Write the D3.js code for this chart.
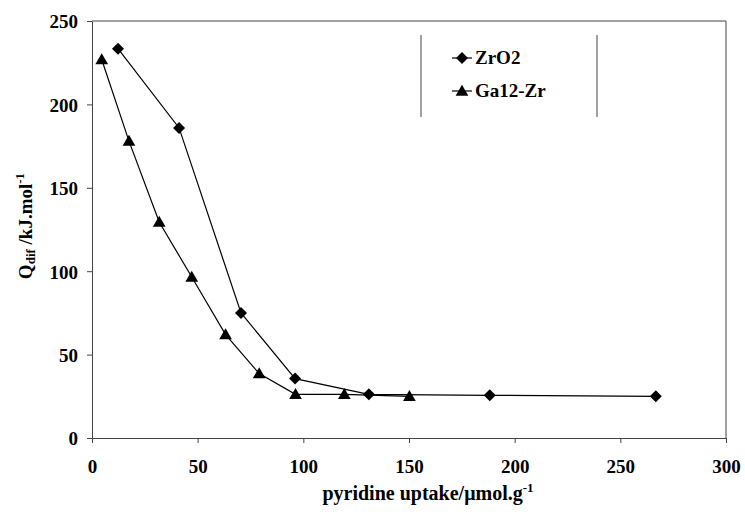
<!DOCTYPE html>
<html>
<head>
<meta charset="utf-8">
<style>
  body { margin: 0; background: #fff; }
  text { font-family: "Liberation Serif", "Times New Roman", serif; font-weight: bold; fill: #000; }
</style>
</head>
<body>
<div id="chart"></div>
<script src="https://cdn.jsdelivr.net/npm/d3@7"></script>
<script>
// values
var zrX = [12.3, 41.2, 70.5, 96.1, 131, 188.2, 266.8];
var zrY = [233.4, 185.9, 75, 35.6, 26.2, 25.6, 25];
var gaX = [4.6, 17.5, 31.8, 47.2, 63.2, 79.1, 96.3, 119.4, 150.2];
var gaY = [226.9, 178, 129.5, 96.5, 62, 38.6, 26.2, 26.2, 25];
var xTicks = [0, 50, 100, 150, 200, 250, 300];
var yTicks = [0, 50, 100, 150, 200, 250];
var seriesNames = ["ZrO2", "Ga12-Zr"];

var W = 745, H = 512;
var m = {left: 92, right: 19, top: 21, bottom: 74};

var svg = d3.select('#chart').append('svg').attr('width', W).attr('height', H);

var x = d3.scaleLinear().domain([0, 300]).range([m.left, W - m.right]);
var y = d3.scaleLinear().domain([0, 250]).range([H - m.bottom, m.top]);

// frame (top and right)
svg.append('path')
  .attr('d', 'M' + x(0) + ',' + y(250) + 'H' + x(300) + 'V' + y(0))
  .attr('fill', 'none').attr('stroke', '#444').attr('stroke-width', 1);

var xAxis = svg.append('g')
  .attr('transform', 'translate(0,' + y(0) + ')')
  .call(d3.axisBottom(x).tickValues(xTicks).tickSize(5).tickPadding(17).tickSizeOuter(0));
var yAxis = svg.append('g')
  .attr('transform', 'translate(' + x(0) + ',0)')
  .call(d3.axisLeft(y).tickValues(yTicks).tickSize(5).tickPadding(9).tickSizeOuter(0));

[xAxis, yAxis].forEach(function (g) {
  g.select('.domain').attr('stroke', '#444');
  g.selectAll('.tick line').attr('stroke', '#444');
  g.selectAll('.tick text').attr('font-family', '"Liberation Serif", serif')
    .attr('font-weight', 'bold').attr('font-size', 19).attr('fill', '#000');
});
yAxis.selectAll('.tick text').attr('dy', '0.36em');

var line = d3.line().x(function (d) { return x(d[0]); }).y(function (d) { return y(d[1]); });

var zr = zrX.map(function (v, i) { return [v, zrY[i]]; });
var ga = gaX.map(function (v, i) { return [v, gaY[i]]; });

var diamond = d3.symbol().type(d3.symbolSquare).size(72);
var triangle = d3.symbol().type(d3.symbolTriangle).size(70);

svg.append('path').datum(zr).attr('d', line).attr('fill', 'none').attr('stroke', '#000').attr('stroke-width', 1.2);
svg.append('path').datum(ga).attr('d', line).attr('fill', 'none').attr('stroke', '#000').attr('stroke-width', 1.2);

svg.selectAll('.dia').data(zr).enter().append('path')
  .attr('d', diamond)
  .attr('transform', function (d) { return 'translate(' + x(d[0]) + ',' + y(d[1]) + ') rotate(45)'; })
  .attr('fill', '#000');
svg.selectAll('.tri').data(ga).enter().append('path')
  .attr('d', triangle)
  .attr('transform', function (d) { return 'translate(' + x(d[0]) + ',' + (y(d[1]) + 1) + ')'; })
  .attr('fill', '#000');

// axis titles
var xt = svg.append('text').attr('x', 428).attr('y', 500).attr('text-anchor', 'middle').attr('font-size', 20);
xt.append('tspan').text('pyridine uptake/\u03bcmol.g');
xt.append('tspan').attr('dy', -8).attr('font-size', 13).text('-1');

var yt = svg.append('text').attr('transform', 'translate(32,226) rotate(-90)').attr('text-anchor', 'middle').attr('font-size', 19);
yt.append('tspan').text('Q');
yt.append('tspan').attr('font-size', 13).attr('dy', 3).text('dif');
yt.append('tspan').attr('dy', -3).text(' /kJ.mol');
yt.append('tspan').attr('dy', -8).attr('font-size', 13).text('-1');

// legend
var lg = svg.append('g');
lg.append('line').attr('x1', 421).attr('x2', 421).attr('y1', 35).attr('y2', 117).attr('stroke', '#444');
lg.append('line').attr('x1', 597).attr('x2', 597).attr('y1', 35).attr('y2', 117).attr('stroke', '#444');
var legendY = [58, 91];
var legendSym = [diamond, triangle];
seriesNames.forEach(function (name, i) {
  var gy = legendY[i];
  lg.append('line').attr('x1', 452).attr('x2', 472).attr('y1', gy).attr('y2', gy).attr('stroke', '#000').attr('stroke-width', 1.2);
  lg.append('path').attr('d', legendSym[i])
    .attr('transform', 'translate(462,' + (i === 0 ? gy : gy + 1) + ')' + (i === 0 ? ' rotate(45)' : ''))
    .attr('fill', '#000');
  lg.append('text').attr('x', 475).attr('y', gy + 6).attr('font-size', 19).text(name);
});
</script>
</body>
</html>
